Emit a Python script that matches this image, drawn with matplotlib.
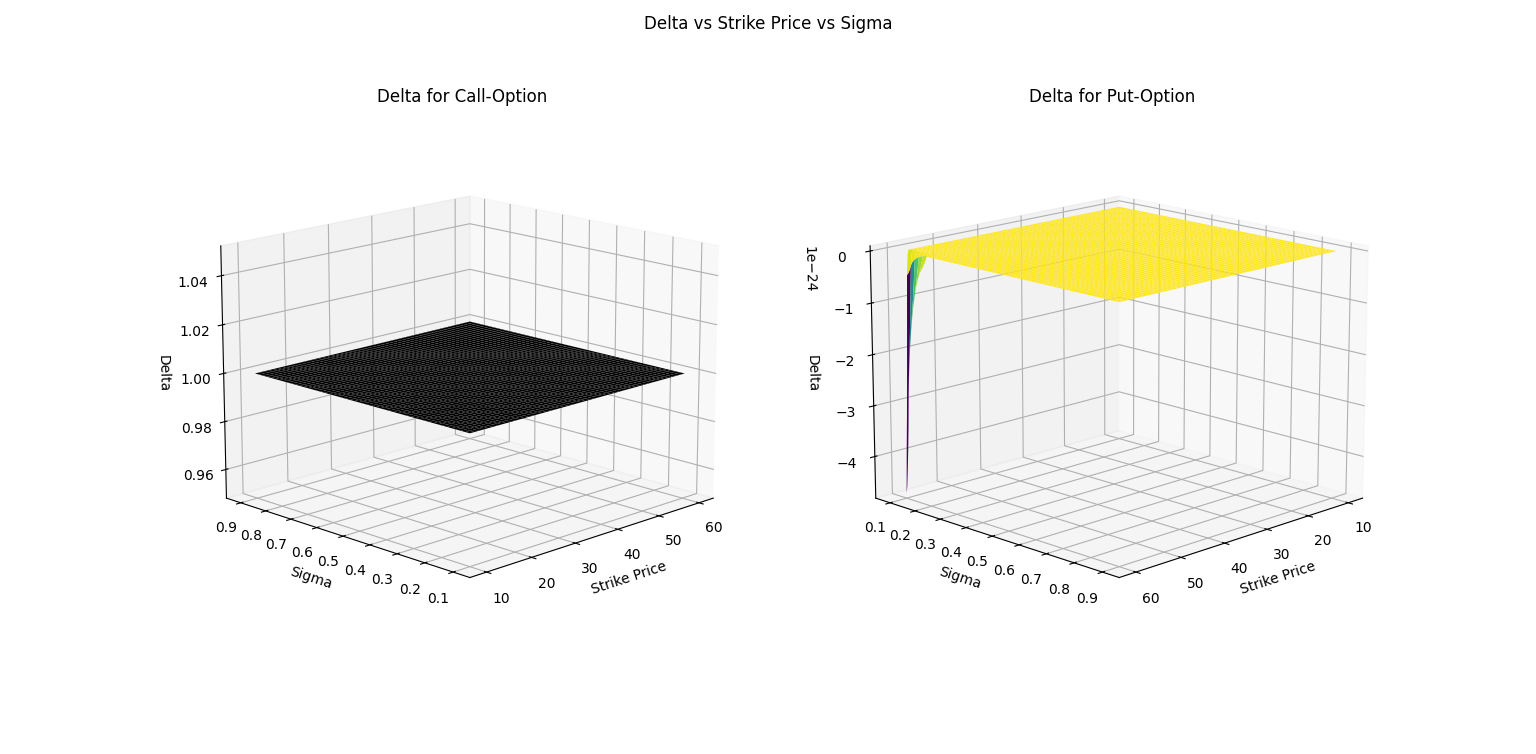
import matplotlib

matplotlib.use("Agg")
from matplotlib import pyplot as plt
import numpy as np

strike_prices = np.linspace(10, 60, 251)
sigmas = np.linspace(0.1, 0.9, 251)
call_delta_value = 1.0
# put delta is zero except for the spike at strike 60, sigma 0.1
put_spike = -4.73e-24
strike_falloff = [1.0, 0.82, 0.68, 0.5, 0.3, 0.1, 0.02]
sigma_falloff = [1.0, 0.97, 0.9, 0.82, 0.72, 0.58, 0.5, 0.433, 0.384, 0.34,
                 0.30, 0.27, 0.24, 0.21, 0.19, 0.165, 0.147, 0.13, 0.115, 0.10,
                 0.09, 0.08, 0.07, 0.063, 0.056, 0.05, 0.04, 0.03, 0.02, 0.01]

X, Y = np.meshgrid(strike_prices, sigmas)
call_delta = np.full(X.shape, call_delta_value)
put_delta = np.zeros(X.shape)
for i, strike_part in enumerate(strike_falloff):
    for j, sigma_part in enumerate(sigma_falloff):
        put_delta[j, -1 - i] = put_spike * strike_part * sigma_part

figure = plt.figure(figsize=(15.36, 7.54), dpi=100)
figure.suptitle("Delta vs Strike Price vs Sigma")

axis = figure.add_subplot(1, 2, 1, projection="3d")
axis.plot_surface(X, Y, call_delta, cmap="gray", rstride=5, cstride=5)
axis.set_title("Delta for Call-Option")
axis.set_xlabel("Strike Price")
axis.set_ylabel("Sigma")
axis.set_zlabel("Delta")
axis.view_init(elev=15, azim=-135)

axis = figure.add_subplot(1, 2, 2, projection="3d")
axis.plot_surface(X, Y, put_delta, cmap="viridis", rstride=5, cstride=5)
axis.set_title("Delta for Put-Option")
axis.set_xlabel("Strike Price")
axis.set_ylabel("Sigma")
axis.set_zlabel("Delta")
axis.view_init(elev=15, azim=45)

figure.savefig("out.png", dpi=100)
plt.close(figure)
